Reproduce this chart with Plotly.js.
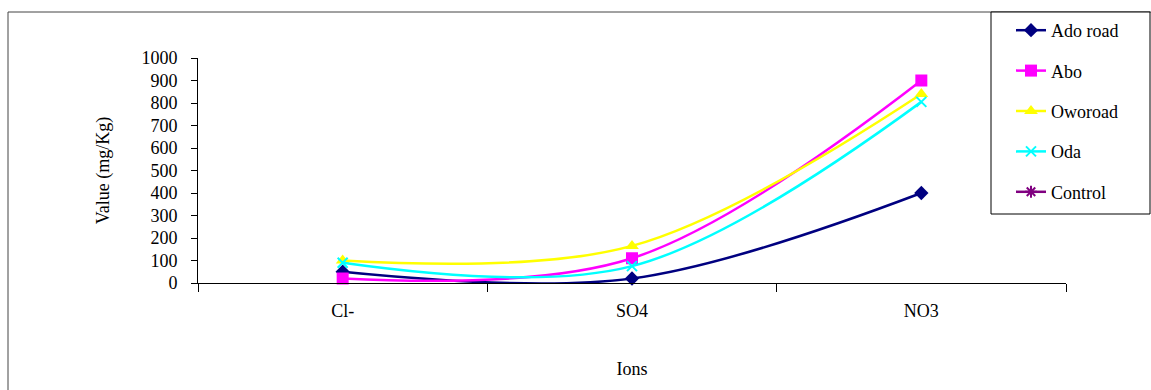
<!DOCTYPE html>
<html>
<head>
<meta charset="utf-8">
<script src="https://cdn.plot.ly/plotly-3.0.1.min.js"></script>
<style>html,body{margin:0;padding:0;background:#fff;}#chart{width:1151px;height:390px;}</style>
</head>
<body>
<div id="chart"></div>
<script>
var categories = ["Cl-", "SO4", "NO3"];
var adoRoad = [50, 20, 400];
var abo = [20, 110, 900];
var oworoad = [100, 165, 840];
var oda = [90, 75, 805];
var control = [null, null, null];
var yTicks = [0, 100, 200, 300, 400, 500, 600, 700, 800, 900, 1000];

function tr(name, y, color, symbol, size, group) {
  var m = {symbol: symbol, size: size, color: color, line: {width: 0, color: color}};
  if (symbol === 'x-thin' || symbol === 'asterisk') m.line = {width: 2, color: color};
  return {
    x: categories, y: y, name: name, type: 'scatter', mode: 'lines+markers',
    line: {color: color, width: 2.5, shape: 'spline', smoothing: 1},
    marker: m, legendgroup: group, cliponaxis: false
  };
}

var data = [
  tr('Ado road', adoRoad, '#000080', 'diamond', 11, 'g1'),
  tr('Abo', abo, '#FF00FF', 'square', 12, 'g2'),
  tr('Oworoad', oworoad, '#FFFF00', 'triangle-up', 12, 'g3'),
  tr('Oda', oda, '#00FFFF', 'x-thin', 10, 'g4'),
  tr('Control', control, '#800080', 'asterisk', 10, 'g5')
];

var W = 1151, H = 390, L = 198, R = 85, T = 58, B = 107;
var pw = W - L - R, ph = H - T - B;
function px(x) { return (x - L) / pw; }
function py(y) { return (H - B - y) / ph; }

var font = {family: 'Liberation Serif', size: 18, color: '#000'};

var layout = {
  width: W, height: H,
  margin: {l: L, r: R, t: T, b: B, pad: 0},
  paper_bgcolor: '#fff', plot_bgcolor: '#fff',
  font: font,
  showlegend: true,
  legend: {
    x: px(1011), y: py(12), xanchor: 'left', yanchor: 'top',
    borderwidth: 0, bgcolor: 'rgba(0,0,0,0)',
    traceorder: 'grouped', tracegroupgap: 14, maxheight: 300,
    font: font, itemwidth: 30
  },
  xaxis: {
    type: 'category', range: [-0.5, 2.5], tickson: 'boundaries',
    showgrid: false, zeroline: false, showline: true, linecolor: '#000', linewidth: 1,
    ticks: 'outside', ticklen: 8, tickcolor: '#000', ticklabelstandoff: 11,
    tickfont: font,
    title: {text: 'Ions', font: font, standoff: 42}
  },
  yaxis: {
    range: [0, 1000], tickvals: yTicks, ticktext: yTicks.map(String),
    showgrid: false, zeroline: false, showline: true, linecolor: '#000', linewidth: 1,
    ticks: 'outside', ticklen: 6, tickcolor: '#000', ticklabelstandoff: 10,
    tickfont: font,
    title: {text: 'Value (mg/Kg)', font: font, standoff: 27}
  },
  shapes: [
    {type: 'rect', xref: 'paper', yref: 'paper', x0: px(8), x1: px(1160), y0: py(12), y1: py(400),
     line: {color: '#444', width: 1}, fillcolor: 'rgba(0,0,0,0)', layer: 'below'},
    {type: 'rect', xref: 'paper', yref: 'paper', x0: px(991), x1: px(1150), y0: py(12), y1: py(214),
     line: {color: '#000', width: 1}, fillcolor: '#fff', layer: 'below'}
  ]
};

Plotly.newPlot('chart', data, layout, {displayModeBar: false, staticPlot: true});
</script>
</body>
</html>
